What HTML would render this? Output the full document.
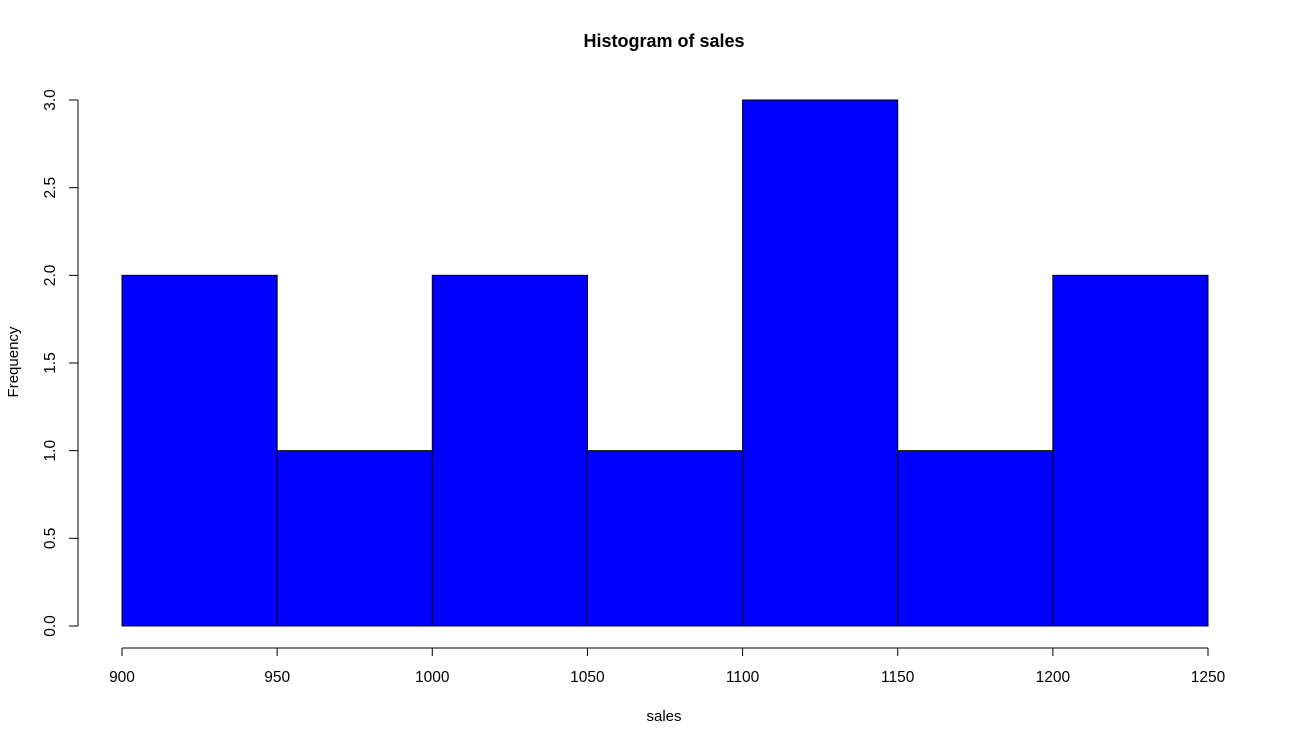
<!DOCTYPE html>
<html><head><meta charset="utf-8"><style>
body{margin:0;background:#fff;}
text{font-family:"Liberation Sans",Arial,sans-serif;}
</style></head><body>
<svg id="c" width="1292" height="745" xmlns="http://www.w3.org/2000/svg">
<text x="664" y="47" font-size="18" font-weight="bold" text-anchor="middle">Histogram of sales</text>
<text x="664" y="721" font-size="15" text-anchor="middle">sales</text>
<text x="0" y="0" font-size="15" text-anchor="middle" transform="translate(18,362) rotate(-90)">Frequency</text>
<g id="bars"></g><g id="xaxis"></g><g id="yaxis"></g>
</svg>
<script>
const breaks=[900,950,1000,1050,1100,1150,1200,1250];
const counts=[2,1,2,1,3,1,2];
const xTicks=[900,950,1000,1050,1100,1150,1200,1250];
const yTicks=[0,0.5,1,1.5,2,2.5,3];
const yTickLabels=["0.0","0.5","1.0","1.5","2.0","2.5","3.0"];
const NS="http://www.w3.org/2000/svg";
const xs=v=>122+(v-900)*(1208-122)/350;
const ys=v=>626-v*(626-100)/3;
function mk(t,a,p){const e=document.createElementNS(NS,t);for(const k in a)e.setAttribute(k,a[k]);p.appendChild(e);return e;}
const bars=document.getElementById('bars');
counts.forEach((c,i)=>{
 const e=mk('rect',{x:xs(breaks[i]),y:ys(c),width:xs(breaks[i+1])-xs(breaks[i]),height:ys(0)-ys(c),fill:'#0000ff',stroke:'#000','stroke-width':1},bars);
 
 
});
const xa=document.getElementById('xaxis');
mk('line',{x1:xs(xTicks[0]),x2:xs(xTicks[xTicks.length-1]),y1:648,y2:648,stroke:'#000'},xa);
xTicks.forEach(t=>{
 mk('line',{x1:xs(t),x2:xs(t),y1:648,y2:656,stroke:'#000'},xa);
 const e=mk('text',{x:xs(t),y:682,'font-size':15.5,'text-anchor':'middle'},xa);e.textContent=t;
 
 
});
const ya=document.getElementById('yaxis');
mk('line',{x1:78,x2:78,y1:ys(yTicks[0]),y2:ys(yTicks[yTicks.length-1]),stroke:'#000'},ya);
yTicks.forEach((t,i)=>{
 mk('line',{x1:69,x2:78,y1:ys(t),y2:ys(t),stroke:'#000'},ya);
 const e=mk('text',{x:0,y:0,'font-size':15.5,'text-anchor':'middle',transform:`translate(55,${ys(t)}) rotate(-90)`},ya);e.textContent=yTickLabels[i];
 
 
});
</script>
</body></html>
